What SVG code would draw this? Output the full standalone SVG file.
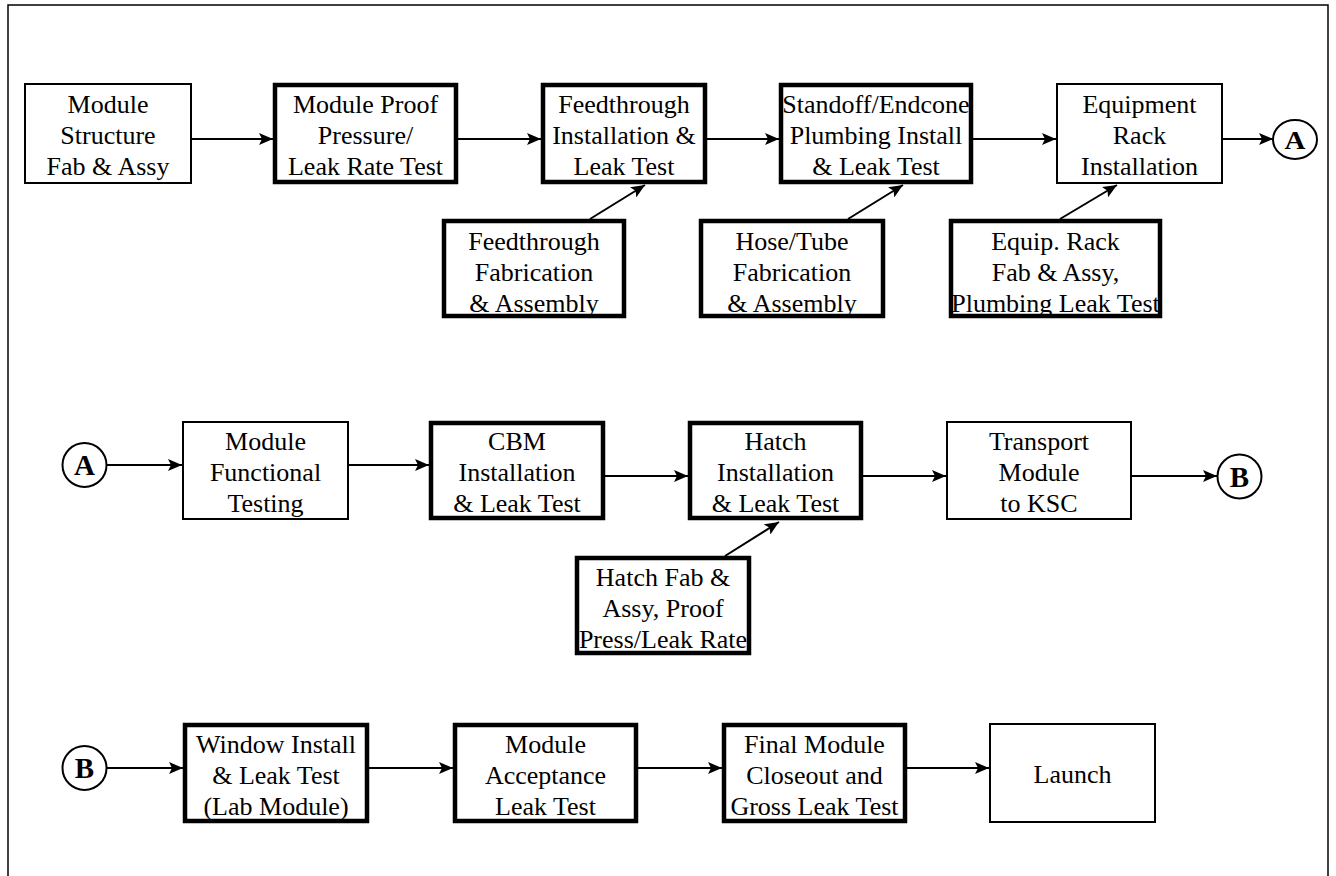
<svg xmlns="http://www.w3.org/2000/svg" width="1336" height="876" viewBox="0 0 1336 876">
<defs>
<style>
.thin{fill:#fff;stroke:#000;stroke-width:2}
.thick{fill:#fff;stroke:#000;stroke-width:4.5}
.t{font-family:"Liberation Serif","Times New Roman",serif;font-size:26px;text-anchor:middle;fill:#000}
.c{font-family:"Liberation Serif","Times New Roman",serif;font-size:29px;font-weight:bold;text-anchor:middle;fill:#000}
.circ{fill:#fff;stroke:#000;stroke-width:2}
.ln{stroke:#000;stroke-width:2;fill:none;marker-end:url(#ah)}
</style>
<marker id="ah" markerUnits="userSpaceOnUse" markerWidth="15" markerHeight="12" refX="14" refY="6" orient="auto">
<path d="M0,0 L14,6 L0,12 L3,6 z" fill="#000"/>
</marker>
</defs>
<rect x="0" y="0" width="1336" height="876" fill="#fff"/>
<path d="M8,876 L8,5 L1328,5 L1328,876" fill="none" stroke="#000" stroke-width="1.5"/>

<g id="connectors">
<line class="ln" x1="192" y1="139" x2="273" y2="139"/>
<line class="ln" x1="458" y1="139" x2="541" y2="139"/>
<line class="ln" x1="707" y1="139" x2="779" y2="139"/>
<line class="ln" x1="973" y1="139" x2="1056" y2="139"/>
<line class="ln" x1="1223" y1="139" x2="1273" y2="139"/>
<line class="ln" x1="590" y1="219" x2="645" y2="185"/>
<line class="ln" x1="848" y1="219" x2="903" y2="185"/>
<line class="ln" x1="1060" y1="219" x2="1117" y2="185"/>
<line class="ln" x1="107" y1="465" x2="182" y2="465"/>
<line class="ln" x1="349" y1="465" x2="429" y2="465"/>
<line class="ln" x1="605" y1="476" x2="688" y2="476"/>
<line class="ln" x1="863" y1="476" x2="946" y2="476"/>
<line class="ln" x1="1132" y1="476" x2="1217" y2="476"/>
<line class="ln" x1="725" y1="556" x2="779" y2="522"/>
<line class="ln" x1="107" y1="768" x2="183" y2="768"/>
<line class="ln" x1="369" y1="768" x2="453" y2="768"/>
<line class="ln" x1="638" y1="768" x2="722" y2="768"/>
<line class="ln" x1="907" y1="768" x2="989" y2="768"/>
</g>

<g id="n-structure">
<rect class="thin" x="25" y="84" width="166" height="99"/>
<text class="t" x="108" y="113">Module</text>
<text class="t" x="108" y="144">Structure</text>
<text class="t" x="108" y="175">Fab &amp; Assy</text>
</g>
<g id="n-proof">
<rect class="thick" x="275" y="85" width="181" height="97"/>
<text class="t" x="365.5" y="113">Module Proof</text>
<text class="t" x="365.5" y="144">Pressure/</text>
<text class="t" x="365.5" y="175">Leak Rate Test</text>
</g>
<g id="n-feedinst">
<rect class="thick" x="543" y="85" width="162" height="97"/>
<text class="t" x="624" y="113">Feedthrough</text>
<text class="t" x="624" y="144">Installation &amp;</text>
<text class="t" x="624" y="175">Leak Test</text>
</g>
<g id="n-standoff">
<rect class="thick" x="781" y="85" width="190" height="97"/>
<text class="t" x="876" y="113">Standoff/Endcone</text>
<text class="t" x="876" y="144">Plumbing Install</text>
<text class="t" x="876" y="175">&amp; Leak Test</text>
</g>
<g id="n-rack">
<rect class="thin" x="1057" y="84" width="165" height="99"/>
<text class="t" x="1139.5" y="113">Equipment</text>
<text class="t" x="1139.5" y="144">Rack</text>
<text class="t" x="1139.5" y="175">Installation</text>
</g>
<g id="n-A1">
<ellipse class="circ" cx="1295" cy="139.5" rx="22" ry="19.5"/>
<text class="c" transform="translate(1295,149) scale(1,0.9)">A</text>
</g>
<g id="n-feedfab">
<rect class="thick" x="444" y="221" width="180" height="95"/>
<text class="t" x="534" y="250">Feedthrough</text>
<text class="t" x="534" y="281">Fabrication</text>
<text class="t" x="534" y="312">&amp; Assembly</text>
</g>
<g id="n-hose">
<rect class="thick" x="701" y="221" width="182" height="95"/>
<text class="t" x="792" y="250">Hose/Tube</text>
<text class="t" x="792" y="281">Fabrication</text>
<text class="t" x="792" y="312">&amp; Assembly</text>
</g>
<g id="n-rackfab">
<rect class="thick" x="951" y="221" width="209" height="95"/>
<text class="t" x="1055.5" y="250">Equip. Rack</text>
<text class="t" x="1055.5" y="281">Fab &amp; Assy,</text>
<text class="t" x="1055.5" y="312">Plumbing Leak Test</text>
</g>

<g id="n-A2">
<circle class="circ" cx="84.5" cy="465" r="22"/>
<text class="c" x="84.5" y="475">A</text>
</g>
<g id="n-functional">
<rect class="thin" x="183" y="422" width="165" height="97"/>
<text class="t" x="265.5" y="450">Module</text>
<text class="t" x="265.5" y="481">Functional</text>
<text class="t" x="265.5" y="512">Testing</text>
</g>
<g id="n-cbm">
<rect class="thick" x="431" y="423" width="172" height="95"/>
<text class="t" x="517" y="450">CBM</text>
<text class="t" x="517" y="481">Installation</text>
<text class="t" x="517" y="512">&amp; Leak Test</text>
</g>
<g id="n-hatch">
<rect class="thick" x="690" y="423" width="171" height="95"/>
<text class="t" x="775.5" y="450">Hatch</text>
<text class="t" x="775.5" y="481">Installation</text>
<text class="t" x="775.5" y="512">&amp; Leak Test</text>
</g>
<g id="n-transport">
<rect class="thin" x="947" y="422" width="184" height="97"/>
<text class="t" x="1039" y="450">Transport</text>
<text class="t" x="1039" y="481">Module</text>
<text class="t" x="1039" y="512">to KSC</text>
</g>
<g id="n-B1">
<circle class="circ" cx="1239.5" cy="476.5" r="22"/>
<text class="c" x="1239.5" y="486.5">B</text>
</g>
<g id="n-hatchfab">
<rect class="thick" x="577" y="558" width="172" height="95"/>
<text class="t" x="663" y="586">Hatch Fab &amp;</text>
<text class="t" x="663" y="617">Assy, Proof</text>
<text class="t" x="663" y="648">Press/Leak Rate</text>
</g>

<g id="n-B2">
<circle class="circ" cx="84.5" cy="768" r="22"/>
<text class="c" x="84.5" y="778">B</text>
</g>
<g id="n-window">
<rect class="thick" x="185" y="725" width="182" height="96"/>
<text class="t" x="276" y="753">Window Install</text>
<text class="t" x="276" y="784">&amp; Leak Test</text>
<text class="t" x="276" y="815">(Lab Module)</text>
</g>
<g id="n-acceptance">
<rect class="thick" x="455" y="725" width="181" height="96"/>
<text class="t" x="545.5" y="753">Module</text>
<text class="t" x="545.5" y="784">Acceptance</text>
<text class="t" x="545.5" y="815">Leak Test</text>
</g>
<g id="n-final">
<rect class="thick" x="724" y="725" width="181" height="96"/>
<text class="t" x="814.5" y="753">Final Module</text>
<text class="t" x="814.5" y="784">Closeout and</text>
<text class="t" x="814.5" y="815">Gross Leak Test</text>
</g>
<g id="n-launch">
<rect class="thin" x="990" y="724" width="165" height="98"/>
<text class="t" x="1072.5" y="783">Launch</text>
</g>
</svg>
